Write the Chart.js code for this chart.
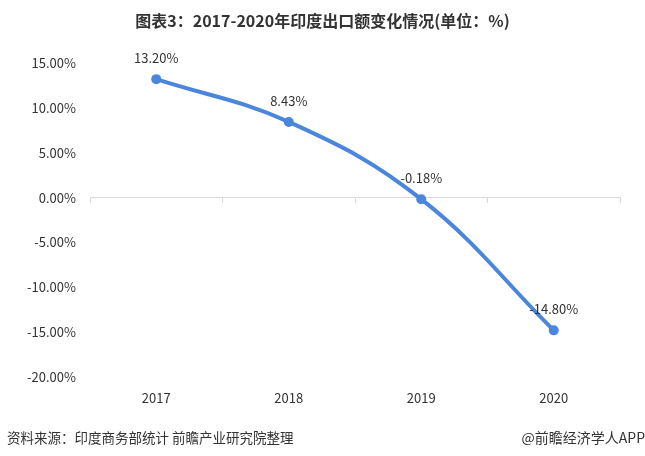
<!DOCTYPE html>
<html>
<head>
<meta charset="utf-8">
<script src="https://cdn.jsdelivr.net/npm/chart.js@4"></script>
<style>
  body { margin: 0; background: #fff; }
  #wrap { position: relative; width: 645px; height: 456px; font-family: "Noto Sans CJK SC", "Noto Sans", sans-serif; color: #333; }
  #title { position: absolute; left: 0; top: 8px; width: 645px; text-align: center; font-size: 16px; font-weight: bold; color: #333; }
  #src { position: absolute; left: 7px; top: 427px; font-size: 13.5px; color: #333; }
  #app { position: absolute; right: 0px; top: 427px; font-size: 14px; color: #333; }
  canvas { position: absolute; left: 0; top: 0; }
</style>
</head>
<body>
<div id="wrap">
  <canvas id="myChart" width="645" height="456"></canvas>
  <div id="title">图表3：2017-2020年印度出口额变化情况(单位：%)</div>
  <div id="src">资料来源：印度商务部统计 前瞻产业研究院整理</div>
  <div id="app">@前瞻经济学人APP</div>
</div>
<script>
const years = ['2017', '2018', '2019', '2020'];
const exportGrowth = [13.20, 8.43, -0.18, -14.80];
const yTicks = [15, 10, 5, 0, -5, -10, -15, -20];

const fontFamily = '"Noto Sans CJK SC", "Noto Sans", sans-serif';

// draws value labels above each point
const valueLabels = {
    id: 'valueLabels',
    afterDatasetsDraw(chart) {
        const c = chart.ctx;
        const meta = chart.getDatasetMeta(0);
        c.save();
        c.font = '13px ' + fontFamily;
        c.fillStyle = '#333';
        c.textAlign = 'center';
        c.textBaseline = 'middle';
        meta.data.forEach((pt, i) => {
            c.fillText(exportGrowth[i].toFixed(2) + '%', pt.x, pt.y - 21);
        });
        c.restore();
    }
};

const ctx = document.getElementById('myChart');
new Chart(ctx, {
    type: 'line',
    data: {
        labels: years,
        datasets: [{
            data: exportGrowth,
            borderColor: '#4a87dc',
            backgroundColor: '#4a87dc',
            borderWidth: 4,
            pointRadius: 5,
            pointBorderWidth: 0,
            tension: 0.4,
            xAxisID: 'x'
        }]
    },
    options: {
        responsive: false,
        animation: false,
        layout: { padding: { top: 63, right: 25, bottom: 44, left: 0 } },
        plugins: { legend: { display: false }, tooltip: { enabled: false } },
        scales: {
            x: {
                offset: true,
                grid: { display: false },
                border: { display: false },
                ticks: { color: '#333', font: { family: fontFamily, size: 13 }, padding: 5 },
                afterFit(scale) { scale.height = 35; }
            },
            x0: {
                type: 'category',
                labels: years,
                position: { y: 0 },
                offset: true,
                grid: { offset: true, drawOnChartArea: false, drawTicks: true, tickLength: 5, color: '#d9d9d9' },
                border: { display: true, color: '#d9d9d9', width: 1 },
                ticks: { display: false }
            },
            y: {
                min: -20,
                max: 15,
                grid: { display: false },
                border: { display: false },
                afterBuildTicks(scale) { scale.ticks = yTicks.map(v => ({ value: v })); },
                ticks: {
                    color: '#333',
                    padding: 6,
                    font: { family: fontFamily, size: 13 },
                    callback: v => v.toFixed(2) + '%'
                },
                afterFit(scale) { scale.width = 90; }
            }
        }
    },
    plugins: [valueLabels]
});
</script>
</body>
</html>
